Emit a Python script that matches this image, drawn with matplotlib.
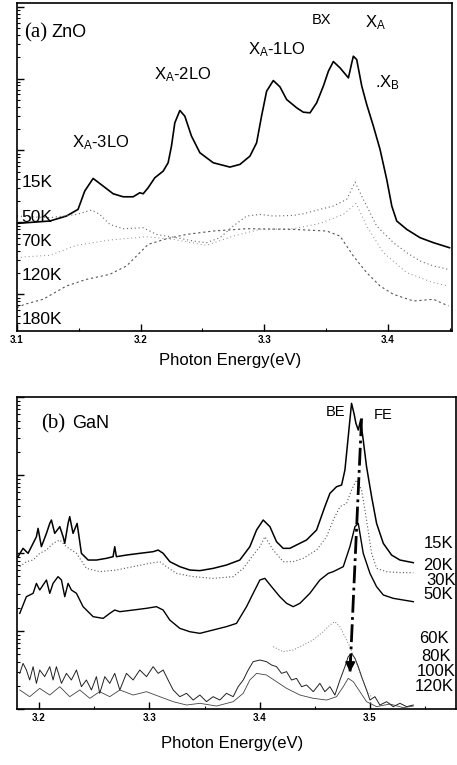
import numpy as np
import matplotlib
matplotlib.use('Agg')
import matplotlib.pyplot as plt
from matplotlib.ticker import MultipleLocator, LogLocator, NullFormatter

plt.rcParams['font.family'] = ['Liberation Sans', 'DejaVu Sans']
plt.rcParams['mathtext.default'] = 'regular'

# ---------------- (a) ZnO : енергія (eV) та log10 інтенсивності ----------------
zno_15k_e = [3.100, 3.1265, 3.140, 3.1494, 3.1548, 3.1616, 3.1697, 3.1778, 3.1859, 3.194,
             3.1994, 3.2021, 3.2061, 3.2115, 3.2183, 3.2223, 3.225, 3.2277, 3.2318, 3.2358,
             3.2412, 3.248, 3.2588, 3.2723, 3.2804, 3.2885, 3.2939, 3.2979, 3.302, 3.3074,
             3.3128, 3.3182, 3.3263, 3.3317, 3.3371, 3.3425, 3.3479, 3.352, 3.356, 3.3614,
             3.3682, 3.3709, 3.3722, 3.3749, 3.379, 3.383, 3.3884, 3.3938, 3.3992, 3.4033,
             3.4073, 3.4154, 3.4262, 3.437, 3.45]
zno_15k_l = [1.986, 2.019, 2.088, 2.181, 2.435, 2.611, 2.505, 2.398, 2.356, 2.356,
             2.412, 2.398, 2.481, 2.620, 2.713, 2.829, 3.060, 3.384, 3.556, 3.477,
             3.199, 2.968, 2.829, 2.769, 2.806, 2.921, 3.106, 3.477, 3.824, 3.972,
             3.884, 3.708, 3.593, 3.532, 3.523, 3.662, 3.894, 4.102, 4.236, 4.148,
             4.009, 4.218, 4.310, 4.264, 3.894, 3.639, 3.338, 3.014, 2.597, 2.227,
             2.019, 1.903, 1.787, 1.718, 1.648]

zno_50k_e = [3.100, 3.1265, 3.1481, 3.1602, 3.167, 3.1751, 3.1859, 3.2021, 3.2129, 3.2291,
             3.2426, 3.2534, 3.2642, 3.275, 3.2858, 3.2966, 3.3074, 3.3236, 3.3317, 3.3452,
             3.356, 3.3668, 3.3736, 3.3803, 3.3911, 3.4046, 3.4154, 3.4262, 3.437, 3.4492]
zno_50k_l = [2.088, 2.065, 2.111, 2.171, 2.111, 1.972, 1.912, 1.926, 1.833, 1.787,
             1.741, 1.718, 1.787, 1.949, 2.088, 2.111, 2.088, 2.097, 2.120, 2.181,
             2.227, 2.319, 2.560, 2.319, 1.949, 1.718, 1.579, 1.463, 1.394, 1.347]

zno_70k_e = [3.100, 3.1076, 3.1265, 3.1481, 3.1751, 3.2048, 3.2264, 3.2534, 3.275, 3.2966,
             3.3236, 3.3452, 3.3641, 3.3744, 3.383, 3.3965, 3.4154, 3.437, 3.4492]
zno_70k_l = [1.509, 1.523, 1.542, 1.681, 1.755, 1.801, 1.764, 1.681, 1.810, 1.903,
             1.912, 1.986, 2.111, 2.264, 1.949, 1.579, 1.301, 1.162, 1.116]

zno_120k_e = [3.100, 3.1062, 3.1211, 3.140, 3.1562, 3.1751, 3.1886, 3.1994, 3.2061, 3.221,
              3.2372, 3.2588, 3.2858, 3.3236, 3.3506, 3.3614, 3.3668, 3.3722, 3.383, 3.3938,
              3.4046, 3.4208, 3.437, 3.4492]
zno_120k_l = [0.815, 0.861, 0.931, 1.116, 1.208, 1.278, 1.394, 1.579, 1.694, 1.773,
              1.833, 1.880, 1.912, 1.903, 1.880, 1.810, 1.671, 1.532, 1.301, 1.116,
              1.000, 0.907, 0.931, 0.838]

zno_temps = ['15K', '50K', '70K', '120K', '180K']
zno_temp_l = [2.56, 2.065, 1.741, 1.264, 0.653]

# ---------------- (b) GaN ----------------
gan_15k_e = [3.1809, 3.1855, 3.19, 3.1946, 3.1976, 3.1991, 3.2021, 3.2067, 3.2097, 3.2112,
             3.2142, 3.2188, 3.2218, 3.2233, 3.2263, 3.2278, 3.2308, 3.2345, 3.2384, 3.2445,
             3.252, 3.2611, 3.2671, 3.2686, 3.2701, 3.2792, 3.2913, 3.3034, 3.308, 3.3125,
             3.3186, 3.3276, 3.3367, 3.3458, 3.3578, 3.3699, 3.382, 3.3911, 3.3972, 3.4032,
             3.4093, 3.4153, 3.4213, 3.4274, 3.4334, 3.4425, 3.4516, 3.4591, 3.4637, 3.4697,
             3.4743, 3.4773, 3.4803, 3.4833, 3.4855, 3.4873, 3.4894, 3.4915, 3.4939, 3.4969,
             3.5015, 3.506, 3.5121, 3.5196, 3.5272, 3.5393]
gan_15k_l = [1.953, 2.060, 1.996, 2.124, 2.209, 2.316, 2.081, 2.252, 2.380, 2.423,
             2.252, 2.338, 2.209, 2.124, 2.380, 2.466, 2.252, 2.380, 1.996, 1.910,
             1.910, 1.932, 1.953, 2.081, 1.953, 1.974, 1.996, 2.017, 2.038, 1.996,
             1.889, 1.825, 1.782, 1.774, 1.803, 1.846, 1.910, 2.081, 2.295, 2.423,
             2.338, 2.145, 2.060, 2.060, 2.103, 2.167, 2.295, 2.594, 2.765, 2.850,
             2.872, 3.064, 3.491, 3.919, 3.791, 3.662, 3.577, 3.705, 3.449, 3.107,
             2.722, 2.380, 2.124, 1.974, 1.910, 1.876]

gan_20k_e = [3.1825, 3.1885, 3.1946, 3.2006, 3.2067, 3.2127, 3.2188, 3.2248, 3.2339, 3.243,
             3.255, 3.2702, 3.2853, 3.3004, 3.3095, 3.3155, 3.3246, 3.3397, 3.3578, 3.376,
             3.3851, 3.3941, 3.4002, 3.4047, 3.4123, 3.4213, 3.4304, 3.4395, 3.4516, 3.4607,
             3.4667, 3.4728, 3.4788, 3.4833, 3.4879, 3.4924, 3.4969, 3.5015, 3.506, 3.5151,
             3.5272, 3.5393]
gan_20k_l = [1.825, 1.889, 1.910, 1.996, 2.038, 2.124, 2.167, 2.081, 1.996, 1.803,
             1.761, 1.782, 1.825, 1.868, 1.889, 1.825, 1.739, 1.697, 1.675, 1.697,
             1.803, 1.974, 2.081, 2.209, 2.038, 1.889, 1.889, 1.932, 2.038, 2.209,
             2.423, 2.594, 2.637, 2.808, 2.936, 2.808, 2.423, 1.996, 1.803, 1.761,
             1.748, 1.748]

gan_30k_e = [3.1825, 3.1885, 3.1946, 3.1976, 3.2006, 3.2067, 3.2097, 3.2127, 3.2172, 3.2203,
             3.2233, 3.2263, 3.2293, 3.2339, 3.2399, 3.249, 3.2581, 3.2641, 3.2686, 3.2732,
             3.2853, 3.2974, 3.3064, 3.3125, 3.3185, 3.3276, 3.3367, 3.3458, 3.3578, 3.3699,
             3.379, 3.3881, 3.3941, 3.4002, 3.4047, 3.4108, 3.4183, 3.4244, 3.4304, 3.4365,
             3.4455, 3.4546, 3.4622, 3.4667, 3.4758, 3.4818, 3.4864, 3.4894, 3.4939, 3.5,
             3.506, 3.5121, 3.5211, 3.5393]
gan_30k_l = [1.226, 1.440, 1.483, 1.611, 1.526, 1.654, 1.483, 1.611, 1.697, 1.654,
             1.440, 1.611, 1.526, 1.483, 1.312, 1.184, 1.162, 1.226, 1.269, 1.248,
             1.269, 1.291, 1.312, 1.269, 1.141, 1.034, 0.991, 0.970, 1.013, 1.056,
             1.098, 1.312, 1.483, 1.654, 1.675, 1.568, 1.440, 1.355, 1.312, 1.355,
             1.483, 1.654, 1.739, 1.761, 1.825, 2.081, 2.338, 2.380, 1.996, 1.739,
             1.568, 1.462, 1.419, 1.376]

gan_60k_e = [3.4123, 3.4213, 3.4304, 3.4395, 3.4486, 3.4576, 3.4637, 3.4682, 3.4728, 3.4773,
             3.4818, 3.4864, 3.4909, 3.4969, 3.503]
gan_60k_l = [0.799, 0.735, 0.756, 0.821, 0.885, 0.991, 1.077, 1.120, 1.056, 0.927,
             0.799, 0.628, 0.457, 0.244, 0.115]

gan_80k_e = [3.1825, 3.1855, 3.1885, 3.1915, 3.1946, 3.1976, 3.2006, 3.2051, 3.2097, 3.2127,
             3.2157, 3.2203, 3.2248, 3.2293, 3.2339, 3.2384, 3.2429, 3.2475, 3.2520, 3.2550,
             3.2596, 3.2641, 3.2686, 3.2732, 3.2792, 3.2853, 3.2913, 3.2974, 3.3034, 3.3080,
             3.3125, 3.3170, 3.3216, 3.3276, 3.3337, 3.3397, 3.3458, 3.3518, 3.3578, 3.3639,
             3.3699, 3.3760, 3.3805, 3.3851, 3.3896, 3.3941, 3.4002, 3.4062, 3.4108, 3.4153,
             3.4198, 3.4244, 3.4289, 3.4334, 3.4380, 3.4425, 3.4486, 3.4546, 3.4591, 3.4637,
             3.4682, 3.4728, 3.4773, 3.4803, 3.4833, 3.4864, 3.4894, 3.4924, 3.4969, 3.5000,
             3.5045, 3.5090, 3.5151, 3.5211, 3.5272, 3.5332, 3.5393]
gan_80k_l = [0.457, 0.585, 0.500, 0.372, 0.543, 0.329, 0.500, 0.415, 0.543, 0.372,
             0.543, 0.329, 0.457, 0.372, 0.500, 0.286, 0.372, 0.244, 0.415, 0.201,
             0.415, 0.329, 0.457, 0.244, 0.457, 0.372, 0.500, 0.415, 0.543, 0.457,
             0.500, 0.372, 0.244, 0.158, 0.201, 0.115, 0.179, 0.094, 0.158, 0.115,
             0.201, 0.158, 0.286, 0.372, 0.500, 0.607, 0.628, 0.607, 0.564, 0.543,
             0.457, 0.479, 0.372, 0.393, 0.286, 0.308, 0.222, 0.329, 0.222, 0.286,
             0.179, 0.372, 0.543, 0.671, 0.714, 0.650, 0.543, 0.415, 0.244, 0.115,
             0.158, 0.051, 0.094, 0.030, 0.073, 0.030, 0.051]

gan_120k_e = [3.1825, 3.1915, 3.2006, 3.2097, 3.2188, 3.2278, 3.2369, 3.2460, 3.2550, 3.2641,
              3.2732, 3.2853, 3.2974, 3.3095, 3.3216, 3.3337, 3.3458, 3.3609, 3.3760, 3.3851,
              3.3911, 3.3972, 3.4062, 3.4153, 3.4244, 3.4365, 3.4486, 3.4607, 3.4697, 3.4758,
              3.4803, 3.4849, 3.4909, 3.4969, 3.5060, 3.5181, 3.5302, 3.5393]
gan_120k_l = [0.244, 0.158, 0.265, 0.179, 0.286, 0.158, 0.244, 0.137, 0.222, 0.158,
              0.244, 0.179, 0.222, 0.158, 0.094, 0.051, 0.073, 0.038, 0.094, 0.201,
              0.372, 0.457, 0.436, 0.350, 0.265, 0.179, 0.137, 0.115, 0.158, 0.286,
              0.393, 0.350, 0.222, 0.094, 0.030, 0.064, 0.017, 0.038]

gan_temps = ['15K', '20K', '30K', '50K', '60K', '80K', '100K', '120K']
gan_temp_e = [3.5484, 3.5484, 3.5508, 3.5484, 3.5447, 3.5466, 3.5420, 3.5410]
gan_temp_l = [2.124, 1.846, 1.654, 1.462, 0.906, 0.671, 0.479, 0.286]

# зсув FE-піку з температурою (стрілка)
fe_track_e = [3.4924, 3.4818]
fe_track_l = [3.726, 0.436]


def lin(v):
    return 10 ** np.asarray(v)


fig = plt.figure(figsize=(4.57, 7.65), dpi=100)
ax1 = fig.add_axes([0.0372, 0.5673, 0.9518, 0.4288])
ax2 = fig.add_axes([0.0372, 0.0732, 0.9606, 0.4078])

# ---------------- панель (a) ----------------
ax1.plot(zno_15k_e, lin(zno_15k_l), color='k', lw=1.2)
ax1.plot(zno_50k_e, lin(zno_50k_l), color='#666666', lw=0.8, ls=(0, (1, 2.5)))
ax1.plot(zno_70k_e, lin(zno_70k_l), color='#888888', lw=0.7, ls=(0, (1, 3)))
ax1.plot(zno_120k_e, lin(zno_120k_l), color='#555555', lw=0.8, ls=(0, (2, 2.5)))
ax1.set_xlim(3.1, 3.452)
ax1.set_ylim(10 ** 0.49, 10 ** 5.05)
ax1.set_yscale('log')

ax1.text(3.1054, 10 ** 4.634, '(a)', family='Liberation Serif', fontsize=15, va='center')
ax1.text(3.1275, 10 ** 4.634, 'ZnO', fontsize=13, va='center')
ax1.text(3.1448, 10 ** 3.106, 'X$_A$-3LO', fontsize=12, va='center')
ax1.text(3.2107, 10 ** 4.056, 'X$_A$-2LO', fontsize=12, va='center')
ax1.text(3.2871, 10 ** 4.403, 'X$_A$-1LO', fontsize=12, va='center')
ax1.text(3.3385, 10 ** 4.819, 'BX', fontsize=10.5, va='center')
ax1.text(3.3817, 10 ** 4.773, 'X$_A$', fontsize=12, va='center')
ax1.text(3.3898, 10 ** 3.94, '.X$_B$', fontsize=12, va='center')
for t, l in zip(zno_temps, zno_temp_l):
    ax1.text(3.1035, 10 ** l, t, fontsize=12.5, va='center')

# ---------------- панель (b) ----------------
ax2.plot(gan_120k_e, lin(gan_120k_l), color='#444444', lw=0.6)
ax2.plot(gan_80k_e, lin(gan_80k_l), color='#222222', lw=0.7)
ax2.plot(gan_60k_e, lin(gan_60k_l), color='#777777', lw=0.7, ls=(0, (1, 2)))
ax2.plot(gan_30k_e, lin(gan_30k_l), color='k', lw=1.0)
ax2.plot(gan_20k_e, lin(gan_20k_l), color='#555555', lw=0.8, ls=(0, (1, 2)))
ax2.plot(gan_15k_e, lin(gan_15k_l), color='k', lw=1.1)
ax2.plot(fe_track_e, lin(fe_track_l), color='k', lw=2.0, ls='-.')
ax2.annotate('', xy=(fe_track_e[1], 10 ** fe_track_l[1]),
             xytext=(fe_track_e[1] + 0.0005, 10 ** (fe_track_l[1] + 0.25)),
             arrowprops=dict(arrowstyle='-|>', color='k', lw=1.5, mutation_scale=14))
ax2.set_xlim(3.18, 3.578)
ax2.set_ylim(1, 1e4)
ax2.set_yscale('log')

ax2.text(3.2021, 10 ** 3.662, '(b)', family='Liberation Serif', fontsize=15, va='center')
ax2.text(3.2300, 10 ** 3.662, 'GaN', fontsize=13, va='center')
ax2.text(3.4601, 10 ** 3.812, 'BE', fontsize=10.5, va='center')
ax2.text(3.5030, 10 ** 3.769, 'FE', fontsize=10.5, va='center')
for t, e, l in zip(gan_temps, gan_temp_e, gan_temp_l):
    ax2.text(e, 10 ** l, t, fontsize=12, va='center', clip_on=False)

for ax in (ax1, ax2):
    ax.xaxis.set_major_locator(MultipleLocator(0.1))
    ax.xaxis.set_minor_locator(MultipleLocator(0.05))
    ax.yaxis.set_major_locator(LogLocator(base=10, numticks=10))
    ax.yaxis.set_minor_locator(LogLocator(base=10, subs=np.arange(2, 10), numticks=20))
    ax.yaxis.set_minor_formatter(NullFormatter())
    ax.tick_params(which='major', direction='in', length=5, width=1.0, labelsize=7, pad=3)
    ax.tick_params(which='minor', direction='in', length=2.5, width=0.8)
    ax.tick_params(axis='y', labelleft=False)
    for lab in ax.get_xticklabels():
        lab.set_fontweight('bold')
    for s in ax.spines.values():
        s.set_linewidth(1.2)

ax1.set_xlabel('Photon Energy(eV)', fontsize=12)
ax2.set_xlabel('Photon Energy(eV)', fontsize=12)
ax1.xaxis.set_label_coords(0.49, -0.068)
ax2.xaxis.set_label_coords(0.49, -0.088)

fig.savefig('out.png', dpi=100)
